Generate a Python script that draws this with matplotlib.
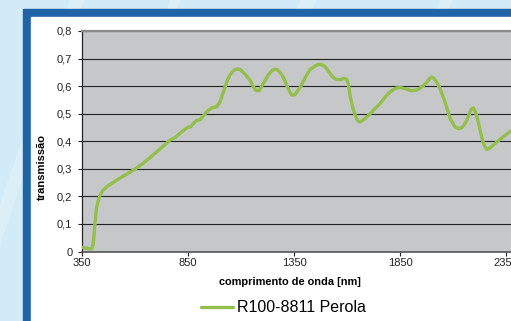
import numpy as np
import matplotlib
matplotlib.use("Agg")
import matplotlib.pyplot as plt
from matplotlib.patches import Rectangle, Polygon

# transmission spectrum, R100-8811 Perola
wavelength = [350, 370, 388, 398, 404, 411, 418, 427, 438, 450, 470, 490, 520,
              553, 600, 639, 694, 765, 790, 820, 851, 862, 870, 891, 907, 938,
              962, 985, 1001, 1013, 1025, 1036, 1048, 1060, 1070, 1082, 1095,
              1108, 1120, 1142, 1157, 1170, 1185, 1198, 1212, 1229, 1245, 1260,
              1272, 1282, 1300, 1320, 1339, 1354, 1370, 1386, 1402, 1425, 1449,
              1465, 1481, 1497, 1512, 1530, 1546, 1567, 1585, 1599, 1607, 1614,
              1626, 1638, 1650, 1661, 1685, 1709, 1756, 1780, 1803, 1826, 1850,
              1878, 1905, 1930, 1952, 1975, 1990, 1999, 2010, 2025, 2039, 2062,
              2086, 2109, 2125, 2141, 2160, 2172, 2185, 2196, 2206, 2215, 2235,
              2247, 2259, 2275, 2298, 2337, 2372, 2400]
transmission = [0.015, 0.012, 0.009, 0.012, 0.035, 0.10, 0.155, 0.187, 0.208,
                0.223, 0.237, 0.247, 0.262, 0.277, 0.299, 0.32, 0.356, 0.404,
                0.414, 0.434, 0.452, 0.452, 0.460, 0.476, 0.478, 0.507, 0.521,
                0.525, 0.543, 0.570, 0.597, 0.622, 0.64, 0.653, 0.659, 0.662,
                0.661, 0.652, 0.642, 0.622, 0.600, 0.585, 0.583, 0.600, 0.618,
                0.640, 0.656, 0.661, 0.659, 0.652, 0.632, 0.595, 0.567, 0.569,
                0.585, 0.605, 0.630, 0.660, 0.673, 0.679, 0.678, 0.670, 0.655,
                0.635, 0.625, 0.623, 0.628, 0.625, 0.605, 0.567, 0.525, 0.495,
                0.475, 0.47, 0.482, 0.50, 0.537, 0.560, 0.579, 0.592, 0.595,
                0.590, 0.583, 0.586, 0.597, 0.612, 0.628, 0.633, 0.628, 0.612,
                0.591, 0.543, 0.483, 0.452, 0.446, 0.449, 0.468, 0.490, 0.515,
                0.521, 0.505, 0.483, 0.416, 0.385, 0.37, 0.376, 0.392, 0.416,
                0.437, 0.445]
series_name = "R100-8811 Perola"
x_ticks = [350, 850, 1350, 1850, 2350]
y_ticks = [0, 0.1, 0.2, 0.3, 0.4, 0.5, 0.6, 0.7, 0.8]

W, H = 511, 321
fig = plt.figure(figsize=(W / 100, H / 100), dpi=100)
plt.rcParams['font.family'] = ['Liberation Sans', 'DejaVu Sans']

# page background: pale blue with faint diagonal streaks, blue frame, white panel
bg = fig.add_axes([0, 0, 1, 1])
bg.set_xlim(0, W)
bg.set_ylim(H, 0)
bg.axis("off")
bg.add_patch(Rectangle((0, 0), W, H, color="#d2ebf6", zorder=0))
for x0, w in [(-40, 14), (60, 10), (190, 16), (330, 12), (450, 14)]:
    bg.add_patch(Polygon([(x0, H), (x0 + w, H), (x0 + w + 110, 0), (x0 + 110, 0)],
                         closed=True, color="#e2f3fa", alpha=0.6, lw=0, zorder=1))
bg.add_patch(Rectangle((23, 9), W, H, color="#1f63a8", zorder=2))
bg.add_patch(Rectangle((31, 17), W, H, color="white", zorder=3))

# plot area in pixel coordinates
left, top, bottom = 82, 31, 251.5
px_per_nm = 106 / 500
xmax = 2500
width = (xmax - 350) * px_per_nm
ax = fig.add_axes([left / W, (H - bottom) / H, width / W, (bottom - top) / H])
ax.set_facecolor("#c6c7c9")
ax.set_xlim(350, xmax)
ax.set_ylim(0, 0.8)

ax.plot(wavelength, transmission, color="#93bf4c", lw=2.4,
        solid_capstyle="round", solid_joinstyle="round", zorder=3,
        label=series_name)

ax.set_yticks(y_ticks)
ax.set_yticklabels([f"{v:.1f}".replace(".", ",") if v else "0" for v in y_ticks])
ax.set_xticks(x_ticks)
ax.set_xticklabels([str(v) for v in x_ticks])
ax.grid(axis="y", color="#222222", lw=0.8, zorder=1)
ax.set_axisbelow(True)
ax.tick_params(axis="both", direction="out", length=3, width=0.8,
               labelsize=8, colors="#222222", pad=2)
ax.tick_params(axis="y", pad=4)

for side in ["top", "right"]:
    ax.spines[side].set_color("#8c8c8c")
    ax.spines[side].set_linewidth(1.6)
ax.spines["left"].set_color("#222222")
ax.spines["left"].set_linewidth(0.9)
ax.spines["bottom"].set_color("#555555")
ax.spines["bottom"].set_linewidth(1.2)

ax.set_xlabel("comprimento de onda [nm]", fontsize=7.9, fontweight="bold",
              labelpad=1)
fig.text(41.5 / W, 1 - 167 / H, "transmissão", rotation=90, fontsize=8,
         fontweight="bold", ha="center", va="center")
ax.xaxis.set_label_coords((290 - left) / width, -(277 - bottom) / (bottom - top))

fig.legend(loc="center", bbox_to_anchor=(283 / W, 1 - 308 / H), frameon=False,
           fontsize=11.5, handlelength=2.0, handletextpad=0.25)

fig.savefig("out.png", dpi=100)
